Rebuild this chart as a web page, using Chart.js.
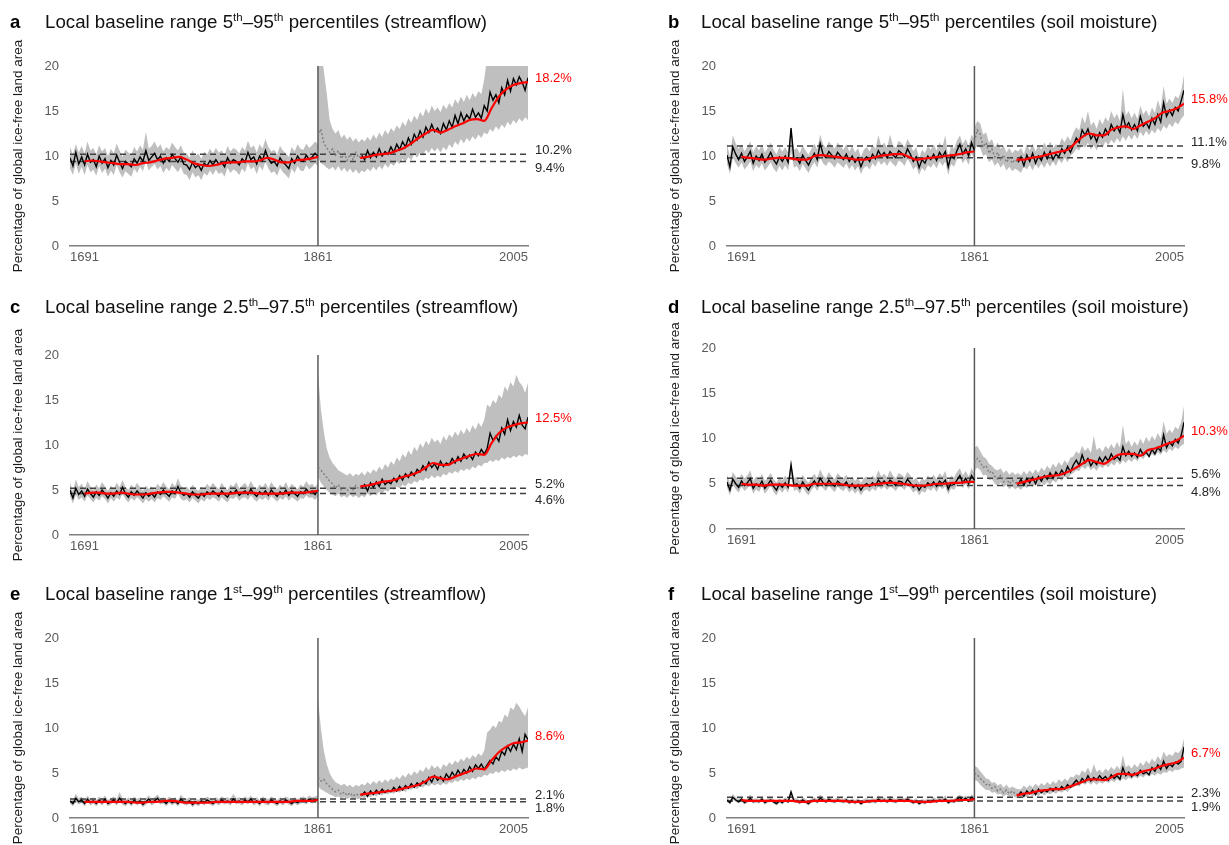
<!DOCTYPE html>
<html>
<head>
<meta charset="utf-8">
<script src="https://cdn.jsdelivr.net/npm/chart.js@4.4.0/dist/chart.umd.min.js"></script>
<style>
    body { margin: 0; width: 1229px; height: 845px; overflow: hidden; background: #fff; position: relative; font-family: "Liberation Sans", Arial, sans-serif; }
    .letter { position: absolute; font-size: 18.5px; font-weight: bold; color: #000; line-height: 20px; z-index: 2; }
    .titulo { position: absolute; font-size: 18.7px; color: #111; line-height: 20px; white-space: nowrap; z-index: 2; }
    .titulo sup { font-size: 11.5px; vertical-align: baseline; position: relative; top: -7px; }
    canvas { position: absolute; z-index: 1; }
</style>
</head>
<body>
<script>
// anos (categorias) e ticks
function years(from, to, step) {
    let out = [];
    for (let y = from; y <= to; y += step) out.push(y);
    return out;
}
const preYears = years(1691, 1861, 2);
const dottedYears = years(1861, 1891, 2);
const postLineYears = years(1891, 2005, 2);
const postBandYears = years(1861, 2005, 2);
const redPreYears = years(1701, 1861, 5);
const redPostYears = years(1890, 2005, 5);
const tickYears = [1691, 1861, 2005];
const splitYear = 1861;
const yTicks = [0, 5, 10, 15, 20];

const panelLetters = ['a', 'b', 'c', 'd', 'e', 'f'];
const panelTitles = [
    'Local baseline range 5<sup>th</sup>–95<sup>th</sup> percentiles (streamflow)',
    'Local baseline range 5<sup>th</sup>–95<sup>th</sup> percentiles (soil moisture)',
    'Local baseline range 2.5<sup>th</sup>–97.5<sup>th</sup> percentiles (streamflow)',
    'Local baseline range 2.5<sup>th</sup>–97.5<sup>th</sup> percentiles (soil moisture)',
    'Local baseline range 1<sup>st</sup>–99<sup>th</sup> percentiles (streamflow)',
    'Local baseline range 1<sup>st</sup>–99<sup>th</sup> percentiles (soil moisture)'
];
const yTitle = 'Percentage of global ice-free land area';

// ---- painel a ----
const aPreLine = [9.8,8.9,10.4,9.1,9.9,9.0,10.2,9.3,9.6,8.8, 10.0,9.2,9.7,8.7,9.5,9.0,10.1,9.3,8.6,9.4, 9.1,8.8,9.7,9.2,9.9,9.4,10.6,9.5,9.9,10.3, 9.6,10.0,9.2,9.8,9.4,10.2,9.7,9.3,9.9,9.1, 9.0,8.5,9.3,8.7,9.0,8.4,9.2,8.9,9.5,9.0, 9.6,9.1,9.3,8.8,9.8,9.2,9.6,9.4,9.0,9.7, 9.3,10.4,9.6,9.9,9.1,10.0,9.5,10.6,9.7,9.2, 9.4,8.9,9.8,9.3,9.0,8.6,9.7,9.2,10.0,9.5, 9.4,10.1,9.6,9.9,10.3,10.0];
const aPreHi = [11.0,10.2,11.3,10.4,11.1,10.3,11.6,10.6,10.9,10.2, 11.2,10.5,10.9,10.0,10.8,10.3,11.4,10.6,9.9,10.7, 10.4,10.1,11.0,10.5,11.2,10.7,12.7,10.8,11.1,11.6, 10.9,11.3,10.5,11.0,10.7,11.5,11.0,10.6,11.2,10.4, 10.3,9.8,10.6,10.0,10.3,9.7,10.5,10.2,10.8,10.3, 10.9,10.4,10.6,10.1,11.1,10.5,10.9,10.7,10.3,11.0, 10.6,11.7,10.9,11.2,10.4,11.3,10.8,11.9,11.0,10.5, 10.7,10.2,11.1,10.6,10.3,9.9,11.0,10.5,11.3,10.8, 10.7,11.4,10.9,11.2,11.6,11.3];
const aPreLo = [8.6,7.9,9.2,8.0,8.8,7.9,9.0,8.2,8.5,7.8, 8.9,8.1,8.6,7.7,8.4,7.9,9.0,8.2,7.6,8.3, 8.0,7.7,8.6,8.1,8.8,8.3,9.4,8.4,8.8,9.1, 8.5,8.9,8.1,8.7,8.3,9.0,8.6,8.2,8.8,8.0, 7.9,7.3,8.2,7.6,7.9,7.3,8.1,7.8,8.4,7.9, 8.5,8.0,8.2,7.7,8.7,8.1,8.5,8.3,7.9,8.6, 8.2,9.2,8.5,8.8,8.0,8.9,8.4,9.4,8.6,8.1, 8.3,7.8,8.7,8.2,7.9,7.5,8.6,8.1,8.9,8.4, 8.3,9.0,8.5,8.8,9.2,8.9];
const aRedPre = [9.4,9.5,9.4,9.3,9.2,9.1,9.1,9.0,9.2,9.3, 9.5,9.7,9.8,9.9,9.6,9.2,9.0,8.9,9.0,9.2, 9.3,9.3,9.4,9.4,9.5,9.8,9.6,9.3,9.3,9.5, 9.6,9.7,9.9];
const aDotted = [12.2,13.0,11.4,10.9,10.4,10.8,10.1,10.6,9.7,10.3,9.5,10.2,9.6,10.4,9.8,10.1];
const aPostLine = [10.1,9.6,10.6,9.8,10.4,9.9,10.8,10.0,10.5,10.2, 11.0,10.4,11.3,10.7,11.6,11.0,12.0,11.3,12.4,11.8, 12.8,12.1,13.2,12.6,13.5,12.7,13.1,12.5,13.6,12.9, 13.9,13.2,14.5,13.6,14.8,13.9,14.6,14.1,15.2,14.3, 14.8,14.2,15.6,15.0,17.1,16.2,16.8,15.9,17.6,16.8, 18.4,17.2,18.6,17.9,18.8,18.2,17.3,18.7];
const aPostHi = [24,22,19.5,17.0,14.0,13.0,12.5,12.9,12.0,12.4,11.8,12.2,11.6,12.0,11.5,11.9, 11.6,12.1,11.7,12.4,11.9,12.6,12.1,12.9,12.4,13.1, 12.7,13.4,13.0,13.8,13.3,14.2,13.7,14.5,14.0,14.9, 14.4,15.3,14.7,15.6,15.0,15.4,14.9,15.7,15.2,15.9, 15.4,16.3,15.8,16.6,16.0,16.8,16.2,17.0,16.5,17.2, 16.9,18.5,21,22,21.5,22,21,22,21.5,22, 21.5,22,21,22,21.5,21,21];
const aPostLo = [9.8,9.2,9.0,8.7,8.5,8.8,8.4,8.9,8.3,8.7,8.2,8.6,8.1,8.5,8.0,8.4, 8.2,8.6,8.3,8.8,8.4,8.9,8.5,9.1,8.7,9.2, 8.9,9.4,9.1,9.7,9.3,9.9,9.5,10.2,9.8,10.4, 10.0,10.7,10.3,10.9,10.5,10.9,10.4,11.0,10.6,11.3, 10.9,11.6,11.2,11.9,11.4,12.0,11.6,12.2,11.8,12.4, 12.0,12.6,12.4,13.0,12.7,13.3,12.9,13.5,13.1,13.8, 13.4,14.0,13.6,14.2,13.8,14.3,14.0];
const aRedPost = [9.8,9.9,10.1,10.2,10.3,10.6,10.9,11.4,12.0,12.5,12.9,12.6,12.9,13.3,13.6,14.0,14.1,13.9,15.3,16.6,17.4,17.9,18.1,18.2];
const aRefs = [10.2, 9.4];

// ---- painel b ----
const bPreLine = [10.1,8.8,11.0,10.2,9.6,10.3,9.4,9.9,10.5,9.2, 10.0,9.5,10.2,9.3,9.8,10.4,9.6,9.1,9.9,9.4, 10.0,9.3,13.1,9.6,9.8,9.2,10.1,9.5,9.0,9.7, 10.3,9.6,11.4,10.2,9.8,10.5,10.1,9.7,10.4,10.0, 9.6,10.2,9.4,10.0,9.3,9.8,8.8,9.6,9.9,9.4, 10.2,9.7,10.6,10.0,10.4,9.8,10.5,10.1,9.8,10.6, 10.3,9.9,10.8,10.2,9.4,9.9,8.7,9.6,9.2,10.0, 9.6,10.2,9.5,10.4,9.9,10.5,8.8,10.1,9.7,10.6, 11.3,10.2,10.8,10.0,11.5,10.6];
const bPreHi = [11.3,10.0,12.3,11.4,10.8,11.3,10.5,11.0,11.6,10.4, 11.1,10.6,11.3,10.4,10.9,11.5,10.7,10.2,11.0,10.5, 11.0,10.4,13.3,10.7,10.9,10.3,11.2,10.6,10.1,10.8, 11.4,10.7,12.4,11.3,10.9,11.6,11.2,10.8,11.5,11.1, 10.7,11.3,10.5,11.1,10.4,10.9,9.9,10.7,11.0,10.5, 11.3,10.8,12.3,11.1,11.5,10.9,12.4,11.2,10.9,11.7, 11.4,11.0,11.9,11.3,10.5,11.0,9.8,10.7,10.3,11.1, 10.7,11.3,10.6,11.5,11.0,12.3,9.9,11.2,10.8,11.7, 12.3,11.3,11.9,11.1,12.4,11.8];
const bPreLo = [9.1,8.0,9.8,9.2,8.7,9.3,8.5,8.9,9.4,8.3, 9.0,8.6,9.2,8.4,8.8,9.3,8.6,8.2,8.9,8.4, 9.0,8.4,10.5,8.7,8.9,8.3,9.1,8.6,8.1,8.8, 9.3,8.7,9.8,9.2,8.9,9.4,9.1,8.7,9.3,9.0, 8.7,9.2,8.5,9.0,8.4,8.9,8.0,8.7,8.9,8.5, 9.2,8.8,9.5,9.0,9.4,8.9,9.5,9.1,8.8,9.5, 9.3,8.9,9.7,9.2,8.5,8.9,7.9,8.7,8.3,9.0, 8.7,9.2,8.6,9.4,8.9,9.4,7.9,9.1,8.8,9.6, 10.0,9.2,9.7,9.0,10.3,9.6];
const bRedPre = [9.9,9.8,9.7,9.6,9.7,9.8,9.8,9.7,9.6,9.6, 10.0,10.1,10.0,9.9,9.8,9.7,9.6,9.6,9.8,10.0, 10.1,10.2,10.2,9.9,9.6,9.7,9.8,9.9,10.0,10.1, 10.2,10.4,10.5];
const bDotted = [11.6,12.9,12.4,11.0,11.5,10.3,10.8,9.9,10.4,9.6,10.1,9.3,9.8,9.2,9.6,9.3];
const bPostLine = [9.3,9.9,8.9,10.1,9.4,10.3,9.2,10.0,9.5,10.4, 9.7,10.5,9.6,10.2,9.9,10.8,10.3,11.0,10.4,11.2, 12.0,11.5,12.9,12.3,13.0,11.9,12.4,11.6,12.6,12.1, 13.0,12.4,13.5,12.8,13.3,12.6,14.6,13.2,13.7,12.9, 13.5,12.8,14.4,13.3,13.7,13.1,14.2,13.5,14.6,13.8, 15.9,14.4,15.1,14.5,15.4,15.0,16.1,17.3];
const bPostHi = [13.2,13.9,13.6,12.4,12.6,11.5,11.9,11.0,11.5,10.8,11.2,10.4,10.9,10.3,10.7,10.5, 10.9,10.2,11.3,10.6,11.4,10.5,11.2,10.7,11.5,10.9, 11.6,10.9,11.3,11.1,12.0,11.5,12.2,11.7,12.6,13.2, 12.8,14.4,13.6,15.0,13.4,13.8,13.0,14.1,13.5,14.3, 13.8,15.0,14.2,14.7,13.9,17.5,14.5,15.0,14.2,14.8, 14.1,15.6,14.6,15.1,14.4,15.4,14.8,16.2,15.2,17.8, 15.8,16.4,15.9,16.7,16.4,17.2,19.0];
const bPostLo = [10.6,11.2,10.9,10.0,10.2,9.3,9.6,8.9,9.3,8.7,9.1,8.4,8.8,8.3,8.6,8.4, 8.1,8.9,8.5,9.0,8.4,9.1,8.6,9.2,8.7,9.3, 8.8,9.4,8.9,9.6,9.2,9.8,9.3,10.0,10.3,10.8, 10.6,11.3,10.9,11.5,10.7,11.2,10.6,11.4,10.9,11.6, 11.2,11.8,11.4,12.0,11.5,12.2,11.7,12.3,11.8,12.4, 11.9,12.7,12.2,12.8,12.3,12.9,12.5,13.1,12.7,13.4, 13.0,13.6,13.2,13.8,13.5,14.1,14.5];
const bRedPost = [9.6,9.6,9.8,9.9,10.1,10.3,10.5,10.7,11.4,12.1,12.5,12.3,12.3,12.9,13.2,13.3,13.0,13.4,13.8,14.2,14.8,15.0,15.3,15.8];
const bRefs = [11.1, 9.8];

// ---- painel c ----
const cPreLine = [5.0,4.1,5.2,4.5,4.9,4.3,5.1,4.6,4.2,4.8, 4.4,5.0,4.6,4.1,4.7,4.3,4.9,4.5,5.3,4.6, 4.2,4.8,4.4,4.9,4.5,4.1,4.7,4.3,4.6,4.2, 4.8,4.5,5.0,4.6,4.3,4.9,4.6,5.4,4.7,4.4, 4.6,4.2,4.8,4.4,4.1,4.6,4.3,4.8,4.5,4.9, 4.6,4.3,4.9,4.5,4.2,4.8,4.6,5.0,4.4,4.7, 4.9,4.5,5.1,4.6,4.3,4.8,4.5,4.9,4.4,5.0, 4.6,4.3,4.8,4.5,5.0,4.4,4.9,4.6,4.3,4.8, 4.6,5.1,4.7,4.9,4.5,5.0];
const cPreHi = [5.8,4.9,6.2,5.3,5.7,5.1,6.0,5.4,5.0,5.6, 5.2,5.9,5.4,4.9,5.5,5.1,5.8,5.3,6.1,5.4, 5.0,5.6,5.2,5.8,5.3,4.9,5.5,5.1,5.4,5.0, 5.7,5.3,5.9,5.4,5.1,5.8,5.4,6.3,5.5,5.2, 5.4,5.0,5.6,5.2,4.9,5.4,5.1,5.7,5.3,5.8, 5.4,5.1,5.8,5.3,5.0,5.6,5.4,5.9,5.2,5.5, 5.8,5.3,6.0,5.4,5.1,5.6,5.3,5.8,5.2,5.9, 5.4,5.1,5.6,5.3,5.9,5.2,5.7,5.4,5.1,5.6, 5.4,6.0,5.5,5.7,5.3,5.8];
const cPreLo = [4.3,3.5,4.5,3.9,4.2,3.7,4.4,4.0,3.6,4.1, 3.8,4.3,4.0,3.5,4.1,3.7,4.2,3.9,4.6,4.0, 3.6,4.1,3.8,4.2,3.9,3.5,4.0,3.7,4.0,3.6, 4.1,3.9,4.3,4.0,3.7,4.2,4.0,4.6,4.0,3.8, 4.0,3.6,4.1,3.8,3.5,4.0,3.7,4.1,3.9,4.2, 4.0,3.7,4.2,3.9,3.6,4.1,4.0,4.3,3.8,4.1, 4.2,3.9,4.4,4.0,3.7,4.1,3.9,4.2,3.8,4.3, 4.0,3.7,4.1,3.9,4.3,3.8,4.2,4.0,3.7,4.1, 4.0,4.4,4.1,4.2,3.9,4.3];
const cRedPre = [4.6,4.7,4.7,4.6,4.6,4.7,4.6,4.5,4.5,4.6, 4.7,4.8,4.8,4.7,4.6,4.5,4.5,4.6,4.6,4.6, 4.6,4.7,4.7,4.7,4.6,4.6,4.6,4.6,4.7,4.7, 4.7,4.8,4.9];
const cDotted = [7.5,7.2,6.8,6.4,6.0,5.7,5.2,5.6,5.0,5.4,4.9,5.3,5.0,5.5,5.1,5.3];
const cPostLine = [5.2,5.6,4.9,5.8,5.3,5.9,5.4,6.2,5.6,5.9, 5.7,6.3,5.9,6.6,6.1,6.8,6.4,7.0,6.6,7.3, 7.0,7.7,7.2,8.1,7.5,7.9,7.3,8.2,7.6,8.0, 7.8,8.5,8.0,8.7,8.2,9.0,8.5,8.9,8.4,9.2, 8.8,9.5,9.0,9.6,11.3,10.5,11.0,10.4,11.9,11.2, 12.8,11.6,12.6,12.0,13.3,12.2,11.8,13.1];
const cPostHi = [18.0,14.0,11.5,9.6,8.6,8.0,7.6,7.2,7.0,6.8,6.6,6.9,6.5,6.8,6.6,7.0, 6.6,7.1,6.8,7.3,7.0,7.6,7.2,7.9,7.5,8.2, 7.8,8.6,8.2,9.0,8.6,9.4,8.9,9.8,9.3,10.2, 9.7,10.5,10.0,10.8,10.3,10.6,10.1,11.0,10.5,11.2, 10.8,11.5,11.0,11.7,11.2,11.9,11.4,12.2,11.7,12.5, 12.0,12.8,14.5,14.2,15.0,14.6,15.6,15.2,16.5,16.0, 17.0,16.5,17.8,17.0,16.6,15.8,16.9];
const cPostLo = [6.5,5.8,5.4,5.0,4.7,4.5,4.3,4.6,4.2,4.4,4.1,4.5,4.2,4.4,4.1,4.4, 4.2,4.6,4.3,4.7,4.4,4.8,4.6,5.0,4.8,5.2, 5.0,5.4,5.2,5.6,5.4,5.8,5.6,6.0,5.8,6.2, 6.0,6.4,6.2,6.6,6.3,6.6,6.4,6.8,6.6,7.0, 6.8,7.1,6.9,7.3,7.1,7.4,7.2,7.6,7.4,7.8, 7.6,8.0,8.0,8.3,8.1,8.4,8.2,8.6,8.4,8.7, 8.5,8.8,8.6,8.9,8.7,9.0,8.9];
const cRedPost = [5.4,5.5,5.7,5.9,6.0,6.2,6.5,6.7,7.0,7.5,8.0,7.8,7.8,8.2,8.5,8.8,9.0,8.9,10.2,11.3,11.9,12.2,12.4,12.5];
const cRefs = [5.2, 4.6];

// ---- painel d ----
const dPreLine = [5.2,4.3,5.5,5.0,4.6,5.3,4.8,5.1,5.6,4.5, 5.0,4.7,5.3,4.5,4.9,5.4,4.7,4.3,5.0,4.6, 5.1,4.6,7.1,4.8,5.0,4.5,5.2,4.7,4.3,4.9, 5.3,4.8,5.6,5.1,4.8,5.4,5.0,4.7,5.3,5.0, 4.8,5.2,4.6,5.0,4.5,4.9,4.3,4.8,5.0,4.7, 5.1,4.8,5.4,5.0,5.3,4.9,5.4,5.1,4.8,5.3, 5.2,4.9,5.5,5.1,4.6,4.9,4.3,4.8,4.6,5.1, 4.8,5.2,4.7,5.3,5.0,5.4,4.4,5.1,4.9,5.4, 5.9,5.1,5.6,5.0,5.9,5.4];
const dPreHi = [6.0,5.1,6.3,5.8,5.4,6.1,5.6,5.9,6.5,5.3, 5.8,5.5,6.1,5.3,5.7,6.2,5.5,5.1,5.8,5.4, 5.9,5.4,7.4,5.6,5.8,5.3,6.0,5.5,5.1,5.7, 6.1,5.6,6.6,5.9,5.6,6.3,5.8,5.5,6.2,5.8, 5.6,6.0,5.4,5.8,5.3,5.7,5.1,5.6,5.8,5.5, 5.9,5.6,6.5,5.8,6.1,5.7,6.5,5.9,5.6,6.2, 6.0,5.7,6.3,5.9,5.4,5.7,5.1,5.6,5.4,5.9, 5.6,6.0,5.5,6.2,5.8,6.4,5.2,5.9,5.7,6.3, 6.7,5.9,6.4,5.8,6.7,6.2];
const dPreLo = [4.6,3.7,4.9,4.4,4.0,4.7,4.2,4.5,4.9,3.9, 4.4,4.1,4.7,3.9,4.3,4.8,4.1,3.7,4.4,4.0, 4.5,4.0,6.0,4.2,4.4,3.9,4.6,4.1,3.7,4.3, 4.7,4.2,4.9,4.5,4.2,4.8,4.4,4.1,4.7,4.4, 4.2,4.6,4.0,4.4,3.9,4.3,3.7,4.2,4.4,4.1, 4.5,4.2,4.7,4.4,4.7,4.3,4.7,4.5,4.2,4.7, 4.6,4.3,4.9,4.5,4.0,4.3,3.7,4.2,4.0,4.5, 4.2,4.6,4.1,4.7,4.4,4.7,3.8,4.5,4.3,4.8, 5.2,4.5,5.0,4.4,5.2,4.8];
const dRedPre = [5.0,4.9,4.9,4.8,4.9,4.9,4.9,4.8,4.8,4.8, 5.0,5.0,5.0,5.0,4.9,4.8,4.8,4.8,4.9,5.0, 5.1,5.1,5.0,4.9,4.8,4.8,4.9,5.0,5.0,5.1, 5.1,5.2,5.2];
const dDotted = [7.3,7.8,7.4,6.8,7.0,6.2,6.4,5.8,5.5,5.9,5.2,5.6,5.0,5.4,5.1,5.2];
const dPostLine = [4.9,5.5,4.8,5.6,5.1,5.7,5.0,5.8,5.3,5.9, 5.5,6.2,5.6,6.3,5.9,6.5,6.0,6.9,6.3,7.1, 7.6,7.0,8.2,7.3,7.8,7.0,7.5,7.1,7.9,7.4, 8.0,7.5,8.3,7.7,8.0,7.6,9.1,8.1,8.6,8.0, 8.4,7.9,8.8,8.2,8.5,8.0,8.8,8.3,9.0,8.6, 10.4,9.0,9.6,9.2,9.9,9.5,10.3,11.8];
const dPostHi = [9.0,9.2,8.6,8.0,7.8,7.2,7.0,6.6,6.5,6.7,6.2,6.5,6.0,6.3,6.0,6.2, 5.9,6.4,6.0,6.5,6.1,6.6,6.2,6.8,6.4,7.0, 6.6,7.2,6.8,7.4,7.0,7.6,7.2,7.9,8.0,8.6, 8.3,9.2,8.6,9.0,8.4,10.3,8.7,9.0,8.5,9.2, 8.8,9.4,8.9,9.6,9.0,11.5,9.4,9.8,9.1,9.7, 9.2,10.0,9.4,10.2,9.6,10.3,9.8,10.6,10.0,11.9, 10.5,11.0,10.6,11.3,11.0,11.8,13.6];
const dPostLo = [6.4,6.8,6.5,5.9,6.0,5.4,5.5,5.0,4.8,5.1,4.6,4.9,4.4,4.7,4.4,4.6, 4.3,4.8,4.5,4.9,4.6,5.0,4.7,5.1,4.8,5.2, 4.9,5.4,5.1,5.6,5.3,5.8,5.5,6.0,6.2,6.5, 6.4,6.9,6.6,7.0,6.5,6.8,6.4,7.0,6.7,7.1, 6.8,7.3,7.0,7.5,7.1,7.6,7.3,7.7,7.4,7.8, 7.5,8.0,7.7,8.2,7.9,8.3,8.0,8.5,8.2,8.7, 8.4,8.9,8.6,9.1,8.8,9.2,9.4];
const dRedPost = [5.0,5.2,5.4,5.6,5.8,5.9,6.0,6.3,6.7,7.2,7.6,7.4,7.2,7.7,8.2,8.3,8.3,8.1,8.7,8.9,9.2,9.5,9.8,10.3];
const dRefs = [5.6, 4.8];

// ---- painel e ----
const ePreLine = [1.9,1.6,2.2,1.8,2.0,1.6,2.1,1.7,1.9,1.6, 2.0,1.7,2.1,1.6,1.8,2.0,1.7,2.2,1.8,1.6, 1.9,1.6,2.0,1.7,1.9,1.5,1.8,2.1,1.7,1.9, 2.2,1.8,1.9,1.6,2.0,1.7,1.9,1.6,2.1,1.8, 1.7,1.9,1.5,1.8,1.6,1.9,1.7,2.0,1.8,1.6, 1.9,1.7,2.0,1.8,1.9,1.7,2.1,1.8,1.9,1.7, 2.0,1.8,2.1,1.7,1.9,1.6,2.0,1.8,1.7,2.0, 1.8,1.6,1.9,1.7,2.0,1.8,1.6,1.9,1.7,1.9, 2.0,1.8,2.1,1.9,2.0,2.1];
const ePreHi = [2.3,2.0,2.7,2.2,2.4,2.0,2.5,2.1,2.3,2.0, 2.4,2.1,2.5,2.0,2.2,2.4,2.1,2.9,2.2,2.0, 2.3,2.0,2.4,2.1,2.3,1.9,2.2,2.5,2.1,2.3, 2.6,2.2,2.3,2.0,2.4,2.1,2.3,2.0,2.6,2.2, 2.1,2.3,1.9,2.2,2.0,2.3,2.1,2.4,2.2,2.0, 2.3,2.1,2.4,2.2,2.3,2.1,2.7,2.2,2.3,2.1, 2.4,2.2,2.5,2.1,2.3,2.0,2.4,2.2,2.1,2.4, 2.2,2.0,2.3,2.1,2.4,2.2,2.0,2.3,2.1,2.3, 2.4,2.2,2.5,2.3,2.4,2.5];
const ePreLo = [1.6,1.3,1.8,1.5,1.7,1.3,1.8,1.4,1.6,1.3, 1.7,1.4,1.8,1.3,1.5,1.7,1.4,1.8,1.5,1.3, 1.6,1.3,1.7,1.4,1.6,1.2,1.5,1.8,1.4,1.6, 1.8,1.5,1.6,1.3,1.7,1.4,1.6,1.3,1.8,1.5, 1.4,1.6,1.2,1.5,1.3,1.6,1.4,1.7,1.5,1.3, 1.6,1.4,1.7,1.5,1.6,1.4,1.8,1.5,1.6,1.4, 1.7,1.5,1.8,1.4,1.6,1.3,1.7,1.5,1.4,1.7, 1.5,1.3,1.6,1.4,1.7,1.5,1.3,1.6,1.4,1.6, 1.7,1.5,1.8,1.6,1.7,1.8];
const eRedPre = [1.8,1.8,1.8,1.8,1.8,1.8,1.8,1.7,1.7,1.8, 1.8,1.9,1.9,1.8,1.7,1.7,1.7,1.7,1.8,1.8, 1.8,1.8,1.8,1.8,1.8,1.8,1.8,1.8,1.8,1.9, 1.9,1.9,2.0];
const eDotted = [4.5,4.1,4.3,3.8,3.5,3.2,2.9,3.1,2.6,2.9,2.5,2.8,2.4,2.7,2.5,2.6];
const ePostLine = [2.5,2.9,2.4,3.0,2.6,3.1,2.7,3.2,2.8,3.1, 2.9,3.4,3.0,3.5,3.1,3.6,3.3,3.8,3.4,3.9, 3.6,4.1,3.8,4.5,4.0,4.7,4.2,4.6,4.1,4.9, 4.4,5.1,4.6,5.3,4.8,5.4,5.0,5.7,5.2,5.9, 5.5,6.0,5.4,5.9,6.4,6.0,6.8,6.4,7.4,7.0, 8.0,7.4,8.2,7.6,8.8,7.4,9.3,8.7];
const ePostHi = [13.3,10.0,7.5,6.0,5.0,4.4,4.0,3.8,3.6,3.8,3.5,3.7,3.4,3.7,3.5,3.8, 3.6,4.0,3.7,4.1,3.8,4.2,3.9,4.3,4.0,4.4, 4.2,4.6,4.3,4.8,4.5,5.0,4.7,5.2,4.9,5.4, 5.1,5.7,5.3,5.9,5.5,5.8,5.4,6.0,5.7,6.2, 5.9,6.4,6.1,6.6,6.3,6.8,6.5,7.0,6.7,7.2, 6.9,7.5,9.5,9.8,10.3,10.0,10.8,10.6,11.5,11.2, 12.3,12.0,12.8,12.4,11.8,11.3,12.3];
const ePostLo = [3.5,3.2,3.0,2.8,2.6,2.5,2.3,2.4,2.2,2.3,2.1,2.3,2.1,2.2,2.1,2.3, 2.2,2.5,2.3,2.6,2.4,2.7,2.5,2.8,2.6,2.9, 2.7,3.0,2.8,3.1,2.9,3.3,3.1,3.4,3.2,3.5, 3.4,3.7,3.5,3.8,3.6,3.8,3.6,3.9,3.7,4.0, 3.9,4.2,4.0,4.3,4.1,4.4,4.2,4.5,4.3,4.6, 4.5,4.8,4.7,5.0,4.9,5.2,5.0,5.3,5.1,5.4, 5.2,5.5,5.3,5.6,5.4,5.5,5.6];
const eRedPost = [2.6,2.7,2.8,2.9,3.0,3.1,3.3,3.5,3.7,4.1,4.6,4.4,4.3,4.6,4.9,5.2,5.5,5.4,6.4,7.3,7.9,8.3,8.4,8.6];
const eRefs = [2.1, 1.8];

// ---- painel f ----
const fPreLine = [2.0,1.7,2.3,2.0,1.8,2.1,1.7,1.9,2.2,1.8, 1.9,1.8,2.1,1.7,1.9,2.0,1.8,1.6,1.9,1.7, 2.0,1.8,2.9,1.9,1.9,1.7,2.0,1.8,1.6,1.9, 2.0,1.8,2.2,2.0,1.8,2.1,1.9,1.8,2.0,1.9, 1.8,2.0,1.7,1.9,1.7,1.9,1.6,1.8,1.9,1.8, 1.9,1.8,2.1,1.9,2.0,1.8,2.1,1.9,1.8,2.0, 2.0,1.9,2.1,1.9,1.7,1.9,1.6,1.8,1.7,1.9, 1.8,2.0,1.8,2.0,1.9,2.1,1.7,1.9,1.8,2.1, 2.3,2.0,2.2,1.9,2.3,2.1];
const fPreHi = [2.3,2.0,2.7,2.3,2.1,2.4,2.0,2.2,2.6,2.1, 2.2,2.1,2.4,2.0,2.2,2.4,2.1,1.9,2.2,2.0, 2.3,2.1,3.0,2.2,2.2,2.0,2.3,2.1,1.9,2.2, 2.3,2.1,2.6,2.3,2.1,2.4,2.2,2.1,2.3,2.2, 2.1,2.3,2.0,2.2,2.0,2.2,1.9,2.1,2.2,2.1, 2.2,2.1,2.5,2.2,2.3,2.1,2.5,2.2,2.1,2.4, 2.3,2.2,2.4,2.2,2.0,2.2,1.9,2.1,2.0,2.2, 2.1,2.3,2.1,2.4,2.2,2.5,2.0,2.2,2.1,2.4, 2.6,2.3,2.5,2.2,2.6,2.4];
const fPreLo = [1.8,1.5,2.0,1.8,1.6,1.9,1.5,1.7,1.9,1.6, 1.7,1.6,1.9,1.5,1.7,1.8,1.6,1.4,1.7,1.5, 1.8,1.6,2.4,1.7,1.7,1.5,1.8,1.6,1.4,1.7, 1.8,1.6,1.9,1.8,1.6,1.9,1.7,1.6,1.8,1.7, 1.6,1.8,1.5,1.7,1.5,1.7,1.4,1.6,1.7,1.6, 1.7,1.6,1.8,1.7,1.8,1.6,1.8,1.7,1.6,1.8, 1.8,1.7,1.9,1.7,1.5,1.7,1.4,1.6,1.5,1.7, 1.6,1.8,1.6,1.8,1.7,1.9,1.5,1.7,1.6,1.9, 2.0,1.8,2.0,1.7,2.0,1.9];
const fRedPre = [2.0,1.9,1.9,1.9,1.9,1.9,1.9,1.9,1.8,1.8, 1.9,1.9,1.9,1.9,1.9,1.8,1.8,1.8,1.9,1.9, 1.9,1.9,1.9,1.9,1.8,1.8,1.8,1.9,1.9,1.9, 2.0,2.0,2.1];
const fDotted = [5.0,4.8,4.4,4.1,3.7,3.8,3.3,3.5,3.0,3.2,2.8,3.1,2.7,3.0,2.7,2.6];
const fPostLine = [2.5,2.9,2.4,3.0,2.7,3.1,2.6,3.2,2.8,3.1, 2.9,3.3,3.0,3.4,3.1,3.5,3.2,3.7,3.4,3.8, 4.2,3.8,4.4,4.0,4.7,4.1,4.5,4.2,4.7,4.3, 4.6,4.2,4.8,4.4,4.7,4.3,5.6,4.7,5.1,4.6, 5.0,4.7,5.3,4.9,5.1,4.8,5.6,5.2,5.9,5.4, 6.3,5.5,6.0,5.7,6.2,6.0,6.3,7.9];
const fPostHi = [5.8,5.6,5.2,4.8,4.4,4.3,3.9,4.0,3.6,3.8,3.4,3.7,3.3,3.5,3.3,3.2, 3.2,3.6,3.3,3.7,3.4,3.8,3.5,3.9,3.6,4.0, 3.7,4.1,3.8,4.3,4.0,4.4,4.1,4.6,4.5,4.9, 4.7,5.3,5.0,5.6,4.9,6.0,5.1,5.4,5.0,5.5, 5.2,5.7,5.3,5.8,5.4,7.0,5.6,5.9,5.5,6.0, 5.6,6.2,5.8,6.4,6.0,6.6,6.2,6.9,6.4,7.4, 6.8,7.1,6.9,7.4,7.2,7.6,8.8];
const fPostLo = [4.2,4.1,3.7,3.4,3.1,3.1,2.8,2.9,2.6,2.7,2.4,2.6,2.3,2.5,2.3,2.2, 2.2,2.5,2.3,2.6,2.4,2.7,2.4,2.8,2.5,2.8, 2.6,2.9,2.7,3.0,2.8,3.1,2.9,3.3,3.4,3.6, 3.5,3.9,3.7,4.0,3.7,4.0,3.7,4.0,3.8,4.1, 3.9,4.2,4.0,4.3,4.1,4.4,4.2,4.5,4.3,4.6, 4.4,4.7,4.5,4.8,4.6,4.9,4.7,5.0,4.8,5.1, 5.0,5.3,5.1,5.4,5.3,5.5,5.6];
const fRedPost = [2.5,2.7,2.8,3.0,3.1,3.2,3.2,3.4,3.7,4.0,4.3,4.3,4.2,4.5,4.9,4.9,4.8,5.1,5.3,5.5,5.8,6.0,6.2,6.7];
const fRefs = [2.3, 1.9];

const series = [
    { preLine: aPreLine, preHi: aPreHi, preLo: aPreLo, redPre: aRedPre, dotted: aDotted, postLine: aPostLine, postHi: aPostHi, postLo: aPostLo, redPost: aRedPost, refs: aRefs },
    { preLine: bPreLine, preHi: bPreHi, preLo: bPreLo, redPre: bRedPre, dotted: bDotted, postLine: bPostLine, postHi: bPostHi, postLo: bPostLo, redPost: bRedPost, refs: bRefs },
    { preLine: cPreLine, preHi: cPreHi, preLo: cPreLo, redPre: cRedPre, dotted: cDotted, postLine: cPostLine, postHi: cPostHi, postLo: cPostLo, redPost: cRedPost, refs: cRefs },
    { preLine: dPreLine, preHi: dPreHi, preLo: dPreLo, redPre: dRedPre, dotted: dDotted, postLine: dPostLine, postHi: dPostHi, postLo: dPostLo, redPost: dRedPost, refs: dRefs },
    { preLine: ePreLine, preHi: ePreHi, preLo: ePreLo, redPre: eRedPre, dotted: eDotted, postLine: ePostLine, postHi: ePostHi, postLo: ePostLo, redPost: eRedPost, refs: eRefs },
    { preLine: fPreLine, preHi: fPreHi, preLo: fPreLo, redPre: fRedPre, dotted: fDotted, postLine: fPostLine, postHi: fPostHi, postLo: fPostLo, redPost: fRedPost, refs: fRefs }
];

// posicoes (pixels) de cada painel
const columns = [
    { left: 0, width: 615, plotLeft: 70, plotRight: 528, letterX: 10, titleX: 45 },
    { left: 657, width: 572, plotLeft: 727, plotRight: 1184, letterX: 668, titleX: 701 }
];
const layout = [
    { col: 0, titleTop: 12, plotTop: 66, plotBottom: 246 },
    { col: 1, titleTop: 12, plotTop: 66, plotBottom: 246 },
    { col: 0, titleTop: 297, plotTop: 355, plotBottom: 535 },
    { col: 1, titleTop: 297, plotTop: 348, plotBottom: 529 },
    { col: 0, titleTop: 584, plotTop: 638, plotBottom: 818 },
    { col: 1, titleTop: 584, plotTop: 638, plotBottom: 818 }
];

const FONT = '"Liberation Sans", Arial, sans-serif';
Chart.defaults.font.family = FONT;

function pts(xs, ys) {
    return ys.map((v, i) => ({ x: xs[i], y: v }));
}

// rotulos a direita (valor final em vermelho e as duas linhas de referencia)
const rotulosDireita = {
    id: 'rotulosDireita',
    afterDatasetsDraw(chart, args, opts) {
        const ctx = chart.ctx;
        const y = chart.scales.y;
        const x0 = chart.chartArea.right + 7;
        ctx.save();
        ctx.font = '13px ' + FONT;
        ctx.textAlign = 'left';
        ctx.textBaseline = 'middle';
        ctx.fillStyle = '#ff0000';
        ctx.fillText(opts.end.toFixed(1) + '%', x0, y.getPixelForValue(opts.end) - 4);
        ctx.fillStyle = '#262626';
        ctx.fillText(opts.refs[0].toFixed(1) + '%', x0, y.getPixelForValue(opts.refs[0]) - 4);
        ctx.fillText(opts.refs[1].toFixed(1) + '%', x0, y.getPixelForValue(opts.refs[1]) + 7);
        ctx.restore();
    }
};

function banda(data, fill) {
    return {
        data: data, fill: fill, backgroundColor: '#bfbfbf',
        borderColor: 'rgba(0,0,0,0)', borderWidth: 0, pointRadius: 0, tension: 0, order: 6
    };
}

function linha(data, cor, largura, order, extra) {
    return Object.assign({
        data: data, fill: false, borderColor: cor, borderWidth: largura,
        pointRadius: 0, tension: 0, order: order
    }, extra || {});
}

function desenharPainel(i) {
    const s = series[i];
    const L = layout[i];
    const C = columns[L.col];

    let letra = document.createElement('div');
    letra.className = 'letter';
    letra.style.left = C.letterX + 'px';
    letra.style.top = L.titleTop + 'px';
    letra.textContent = panelLetters[i];
    document.body.appendChild(letra);

    let titulo = document.createElement('div');
    titulo.className = 'titulo';
    titulo.style.left = C.titleX + 'px';
    titulo.style.top = L.titleTop + 'px';
    titulo.innerHTML = panelTitles[i];
    document.body.appendChild(titulo);

    const top = L.plotTop - 46;
    const height = L.plotBottom - L.plotTop + 96;
    const canvas = document.createElement('canvas');
    canvas.width = C.width;
    canvas.height = height;
    canvas.style.left = C.left + 'px';
    canvas.style.top = top + 'px';
    canvas.style.width = C.width + 'px';
    canvas.style.height = height + 'px';
    document.body.appendChild(canvas);

    const x0 = tickYears[0], x1 = tickYears[tickYears.length - 1];
    const yMax = yTicks[yTicks.length - 1];

    new Chart(canvas, {
        type: 'line',
        data: {
            datasets: [
                banda(pts(preYears, s.preHi), '+1'),
                banda(pts(preYears, s.preLo), false),
                banda(pts(postBandYears, s.postHi), '+1'),
                banda(pts(postBandYears, s.postLo), false),
                linha([{ x: x0, y: s.refs[0] }, { x: x1, y: s.refs[0] }], '#404040', 1.5, 5, { borderDash: [6, 4] }),
                linha([{ x: x0, y: s.refs[1] }, { x: x1, y: s.refs[1] }], '#404040', 1.5, 5, { borderDash: [6, 4] }),
                linha([{ x: splitYear, y: 0 }, { x: splitYear, y: yMax }], '#595959', 1.5, 4),
                linha(pts(dottedYears, s.dotted), '#7f7f7f', 1.4, 3, { borderDash: [2, 2] }),
                linha(pts(preYears, s.preLine), '#000000', 1.4, 2),
                linha(pts(postLineYears, s.postLine), '#000000', 1.4, 2),
                linha(pts(redPreYears, s.redPre), '#ff0000', 2.2, 1, { tension: 0.4, cubicInterpolationMode: 'monotone' }),
                linha(pts(redPostYears, s.redPost), '#ff0000', 2.2, 1, { tension: 0.4, cubicInterpolationMode: 'monotone' })
            ]
        },
        options: {
            responsive: false,
            animation: false,
            events: [],
            layout: {
                padding: { left: 0, top: 46, right: C.left + C.width - C.plotRight, bottom: 26 }
            },
            plugins: {
                legend: { display: false },
                tooltip: { enabled: false },
                rotulosDireita: { end: s.redPost[s.redPost.length - 1], refs: s.refs }
            },
            scales: {
                x: {
                    type: 'linear',
                    min: x0,
                    max: x1,
                    afterBuildTicks: scale => { scale.ticks = tickYears.map(v => ({ value: v })); },
                    afterFit: scale => { scale.height = 24; },
                    grid: { display: false, drawTicks: false },
                    border: { display: true, color: '#7f7f7f', width: 1.5 },
                    ticks: {
                        align: 'inner', autoSkip: false, maxRotation: 0, padding: 4,
                        color: '#595959', font: { size: 13 },
                        callback: v => String(v)
                    }
                },
                y: {
                    min: 0,
                    max: yMax,
                    afterBuildTicks: scale => { scale.ticks = yTicks.map(v => ({ value: v })); },
                    afterFit: scale => { scale.width = C.plotLeft - C.left; },
                    grid: { display: false, drawTicks: false },
                    border: { display: false },
                    ticks: { padding: 11, color: '#595959', font: { size: 13 } },
                    title: {
                        display: true, text: yTitle, color: '#1a1a1a',
                        font: { size: 13.5 }, padding: { top: 10, bottom: 0 }
                    }
                }
            }
        },
        plugins: [rotulosDireita]
    });
}

for (let i = 0; i < series.length; i++) {
    desenharPainel(i);
}
</script>
</body>
</html>
